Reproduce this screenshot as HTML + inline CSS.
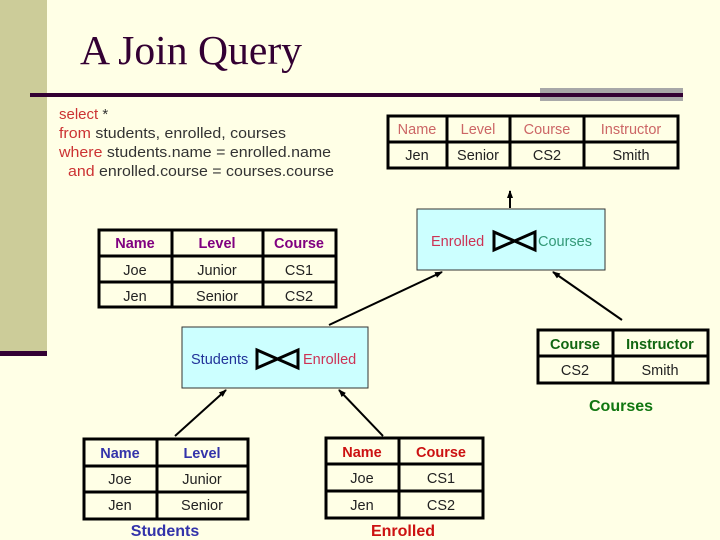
<!DOCTYPE html>
<html><head><meta charset="utf-8"><style>
html,body{margin:0;padding:0;background:#FFFFE6;}
svg{display:block;font-family:"Liberation Sans",Arial,sans-serif;}
</style></head><body>
<svg width="720" height="540" viewBox="0 0 720 540" xmlns="http://www.w3.org/2000/svg">
<defs><marker id="ah" markerWidth="8" markerHeight="8" refX="7" refY="4" orient="auto" markerUnits="userSpaceOnUse"><path d="M0,1 L8,4 L0,7 z" fill="#000"/></marker></defs>
<rect width="720" height="540" fill="#FFFFE6"/>
<rect x="0" y="0" width="47" height="354" fill="#CCCC99"/>
<rect x="0" y="351" width="47" height="5" fill="#330033"/>
<text x="80" y="64" font-family="Liberation Serif,serif" font-size="41" fill="#330033" textLength="222" lengthAdjust="spacingAndGlyphs">A Join Query</text>
<rect x="540" y="88" width="143" height="13" fill="#A8A8A8"/>
<rect x="30" y="93" width="653" height="4" fill="#330033"/>
<g font-size="15" fill="#333">
<text x="59" y="119"><tspan fill="#CC3333">select</tspan> *</text>
<text x="59" y="138" textLength="227" lengthAdjust="spacingAndGlyphs"><tspan fill="#CC3333">from</tspan> students, enrolled, courses</text>
<text x="59" y="157" textLength="272" lengthAdjust="spacingAndGlyphs"><tspan fill="#CC3333">where</tspan> students.name = enrolled.name</text>
<text x="68" y="176" textLength="266" lengthAdjust="spacingAndGlyphs"><tspan fill="#CC3333">and</tspan> enrolled.course = courses.course</text>
</g>
<g stroke="#000" stroke-width="3" fill="none">
<rect x="388" y="116" width="290" height="52"/>
<path d="M388 142H678M447 116V168M510 116V168M584 116V168"/>
<rect x="99" y="230" width="237" height="77"/>
<path d="M99 256H336M99 282H336M172 230V307M263 230V307"/>
<rect x="538" y="330" width="170" height="53"/>
<path d="M538 356H708M613 330V383"/>
<rect x="84" y="439" width="164" height="80"/>
<path d="M84 466H248M84 492H248M157 439V519"/>
<rect x="326" y="438" width="157" height="80"/>
<path d="M326 464H483M326 491H483M399 438V518"/>
</g>
<g font-size="14.5" text-anchor="middle" fill="#CC6666">
<text x="417" y="134">Name</text><text x="478" y="134">Level</text><text x="547" y="134">Course</text><text x="631" y="134">Instructor</text>
</g>
<g font-size="14.5" text-anchor="middle" fill="#222">
<text x="417" y="160">Jen</text><text x="478" y="160">Senior</text><text x="547" y="160">CS2</text><text x="631" y="160">Smith</text>
<text x="135" y="275">Joe</text><text x="217" y="275">Junior</text><text x="299" y="275">CS1</text>
<text x="135" y="301">Jen</text><text x="217" y="301">Senior</text><text x="299" y="301">CS2</text>
<text x="575" y="375">CS2</text><text x="660" y="375">Smith</text>
<text x="120" y="484">Joe</text><text x="202" y="484">Junior</text>
<text x="120" y="510">Jen</text><text x="202" y="510">Senior</text>
<text x="362" y="483">Joe</text><text x="441" y="483">CS1</text>
<text x="362" y="510">Jen</text><text x="441" y="510">CS2</text>
</g>
<g font-size="14.5" font-weight="bold" text-anchor="middle">
<text x="135" y="248" fill="#800080">Name</text><text x="217" y="248" fill="#800080">Level</text><text x="299" y="248" fill="#800080">Course</text>
<text x="575" y="349" fill="#116611">Course</text><text x="660" y="349" fill="#116611">Instructor</text>
<text x="621" y="411" fill="#117711" font-size="16">Courses</text>
<text x="120" y="458" fill="#3333AA">Name</text><text x="202" y="458" fill="#3333AA">Level</text>
<text x="362" y="457" fill="#CC1111">Name</text><text x="441" y="457" fill="#CC1111">Course</text>
<text x="165" y="536" fill="#3333AA" font-size="16">Students</text>
<text x="403" y="536" fill="#CC1111" font-size="16">Enrolled</text>
</g>
<rect x="417" y="209" width="188" height="61" fill="#CCFFFF" stroke="#333" stroke-width="1"/>
<rect x="182" y="327" width="186" height="61" fill="#CCFFFF" stroke="#333" stroke-width="1"/>
<g font-size="14.5">
<text x="431" y="246" fill="#CC3355">Enrolled</text>
<text x="538" y="246" fill="#339977">Courses</text>
<text x="191" y="364" fill="#223399">Students</text>
<text x="303" y="364" fill="#CC3355">Enrolled</text>
</g>
<g stroke="#000" stroke-width="3" fill="none">
<path d="M494 232L535 250V232L494 250Z"/>
<path d="M257 350L298 368V350L257 368Z"/>
</g>
<g stroke="#000" stroke-width="2" marker-end="url(#ah)">
<line x1="510" y1="208" x2="510" y2="191"/>
<line x1="329" y1="325" x2="442" y2="272"/>
<line x1="622" y1="320" x2="553" y2="272"/>
<line x1="175" y1="436" x2="226" y2="390"/>
<line x1="383" y1="436" x2="339" y2="390"/>
</g>
</svg>
</body></html>
